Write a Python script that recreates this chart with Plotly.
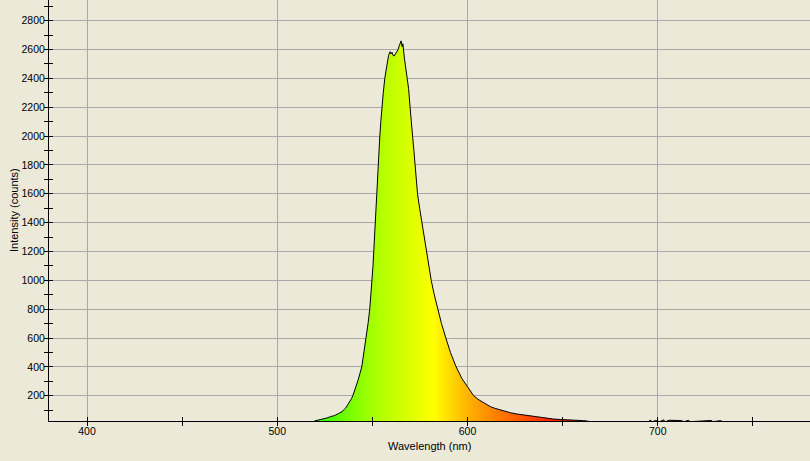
import plotly.graph_objects as go

# Spectrum (wavelength in nm, intensity in counts)
wavelength = [
    519.5, 520.5, 522, 524, 526, 528, 530, 532, 534, 536, 537.5, 539, 539.7,
    541, 542.5, 544.4, 545.5, 546.7, 547.7, 548.6, 549.3, 549.8, 550.3, 550.7,
    551.1, 551.4, 551.7, 552, 552.6, 553, 553.5, 553.9, 554.4, 554.9, 555.7,
    556.5, 557.5, 558.5, 559.3, 559.8, 560.3, 560.8, 561.4, 562, 562.8, 563.5,
    564.2, 564.7, 565.1, 565.6, 566, 566.8, 567.5, 568.3, 569, 569.8, 570.3,
    570.7, 571.1, 571.8, 572.5, 573.1, 573.7, 574.8, 576, 577, 578.1, 579.5,
    580.9, 582.5, 584.2, 586.3, 588.6, 591, 594, 597, 600, 603.2, 605.5, 607.6,
    610, 612, 614.5, 617.2, 620, 622.5, 626, 629.5, 634, 638.3, 642, 645.3,
    649, 652.3, 655, 658, 661, 663,
    664, 695, 696, 697, 699, 701, 703, 704, 706, 708, 710, 712, 714, 716, 717,
    728, 729, 733, 734, 740,
]
intensity = [
    25, 28, 30, 35, 45, 55, 62, 75, 90, 115, 143, 180, 200,
    250, 310, 400, 490, 600, 700, 800, 900, 1000, 1100, 1200,
    1300, 1400, 1500, 1600, 1700, 1800, 1900, 2000, 2100, 2200, 2300,
    2400, 2480, 2560, 2585, 2570, 2580, 2560, 2555, 2570, 2580, 2600,
    2630, 2655, 2660, 2620, 2640, 2540, 2480, 2420, 2330, 2200, 2100,
    2040, 2000, 1900, 1800, 1700, 1600, 1500, 1400, 1300, 1200, 1100,
    1000, 900, 800, 700, 600, 500, 400, 320, 262, 200, 175, 158,
    138, 124, 112, 101, 90, 82, 73, 66, 57, 50, 43, 38,
    35, 34, 31, 29, 27, 24,
    20, 20, 30, 20, 28, 20, 32, 20, 30, 29, 31, 28, 20, 30, 20,
    28, 20, 27, 20, 20,
]

x_title = "Wavelength (nm)"
y_title = "Intensity (counts)"

x_range = [380, 780]
y_range = [24.6, 2943.5]

# wavelength-to-colour gradient of the fill
grad_start, grad_stop = 510, 660
grad_scale = [
    [0.0, "#00FF00"], [0.1, "#40FF00"], [0.2, "#80FF00"], [0.3, "#B4FF00"],
    [0.4, "#DCFF00"], [0.48, "#FFFF00"], [0.6, "#FFB400"], [0.7, "#FF8000"],
    [0.8, "#FF5000"], [0.9, "#FF2000"], [1.0, "#FF0000"],
]

BG = "#ECE9D8"
GRID = "#A8A8A8"
FONT = dict(family="Liberation Sans, Arial, sans-serif", size=11, color="black")
TICKFONT = dict(family="Liberation Sans, Arial, sans-serif", size=10.5, color="black")

W, H = 810, 461
ML, MR, MT, MB = 49, 0, 0, 40
PW, PH = W - ML - MR, H - MT - MB

fig = go.Figure()
fig.add_trace(go.Scatter(
    x=wavelength, y=intensity, mode="lines",
    line=dict(color="black", width=1),
    fill="tozeroy",
    fillgradient=dict(type="horizontal", colorscale=grad_scale,
                      start=grad_start, stop=grad_stop),
    showlegend=False, hoverinfo="skip",
))
# helper trace so the overlay axes (inner halves of ticks) are drawn
fig.add_trace(go.Scatter(
    x=[390], y=[100], xaxis="x2", yaxis="y2", mode="markers",
    marker=dict(opacity=0), showlegend=False, hoverinfo="skip",
))

fig.update_layout(
    width=W, height=H,
    margin=dict(l=ML, r=MR, t=MT, b=MB, autoexpand=False),
    paper_bgcolor=BG, plot_bgcolor=BG,
    font=FONT,
    xaxis=dict(
        range=x_range, tick0=0, dtick=100, automargin=False,
        showgrid=True, gridcolor=GRID, gridwidth=1,
        zeroline=False, showline=True, linecolor="black", linewidth=1,
        ticks="outside", ticklen=4, tickcolor="black",
        minor=dict(dtick=50, ticks="outside", ticklen=4, tickcolor="black", showgrid=False),
        ticklabelstandoff=-4,
        tickfont=TICKFONT,
    ),
    yaxis=dict(
        range=y_range, tick0=0, dtick=200, automargin=False,
        showgrid=True, gridcolor=GRID, gridwidth=1,
        zeroline=False, showline=True, linecolor="black", linewidth=1,
        ticks="outside", ticklen=4, tickcolor="black",
        minor=dict(dtick=100, ticks="outside", ticklen=4, tickcolor="black", showgrid=False),
        ticklabelstandoff=-3,
        tickfont=TICKFONT,
    ),
    xaxis2=dict(
        range=x_range, overlaying="x", anchor="y2", side="bottom", automargin=False,
        tick0=0, dtick=50, ticks="inside", ticklen=4, tickcolor="black",
        showticklabels=False, showgrid=False, zeroline=False, showline=False,
    ),
    yaxis2=dict(
        range=y_range, overlaying="y", anchor="x2", side="left", automargin=False,
        tick0=0, dtick=100, ticks="inside", ticklen=4, tickcolor="black",
        showticklabels=False, showgrid=False, zeroline=False, showline=False,
    ),
    annotations=[
        dict(text=x_title, xref="paper", yref="paper",
             x=0.5, y=-(446 - PH) / PH, xanchor="center", yanchor="middle",
             showarrow=False, font=FONT),
        dict(text=y_title, xref="paper", yref="paper", textangle=-90,
             x=(13.5 - ML) / PW, y=0.5, xanchor="center", yanchor="middle",
             showarrow=False, font=FONT),
    ],
)

fig.write_html(
    "out.html",
    config={"displayModeBar": False},
    post_script="document.body.style.margin='0';document.body.style.overflow='hidden';",
)
